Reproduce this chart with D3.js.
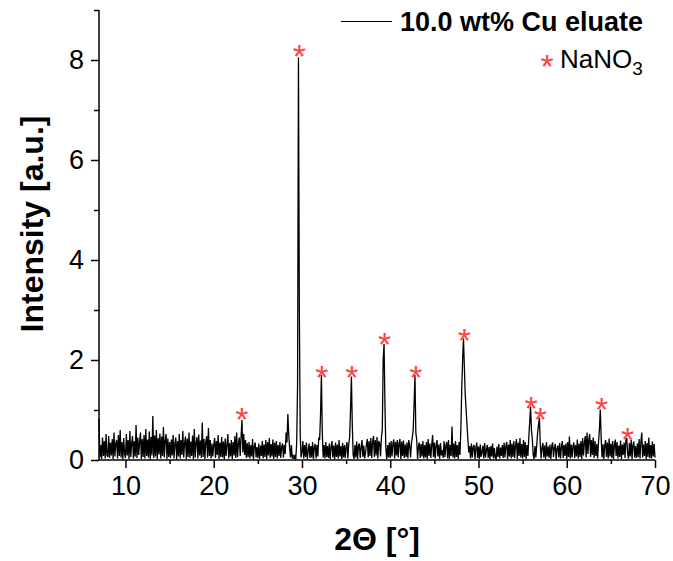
<!DOCTYPE html>
<html>
<head>
<meta charset="utf-8">
<script src="https://cdn.jsdelivr.net/npm/d3@7"></script>
<style>
  body { margin: 0; background: #fff; }
  svg { display: block; font-family: "Liberation Sans", Arial, sans-serif; }
</style>
</head>
<body>
<div id="chart"></div>
<script>
// XRD pattern, 10.0 wt% Cu eluate, NaNO3 reflections marked with red asterisks

// 2Θ grid: first angle and step of the intensity list below
const angleStart = 7.0;
const angleStep = 0.1;

// intensity, one row per degree (7.0 ... 70.0)
const intensity = [
  0.82, 0.05, 0.30, 0.02, 0.45, 0.08, 0.38, 0.03, 0.52, 0.10,
  0.06, 0.48, 0.04, 0.35, 0.09, 0.42, 0.02, 0.55, 0.07, 0.33,
  0.40, 0.03, 0.50, 0.08, 0.60, 0.05, 0.36, 0.01, 0.44, 0.12,
  0.04, 0.52, 0.09, 0.40, 0.02, 0.58, 0.06, 0.34, 0.48, 0.03,
  0.38, 0.07, 0.70, 0.04, 0.45, 0.10, 0.36, 0.55, 0.02, 0.42,
  0.06, 0.50, 0.03, 0.62, 0.08, 0.41, 0.05, 0.57, 0.01, 0.46,
  0.09, 0.88, 0.04, 0.49, 0.07, 0.60, 0.02, 0.44, 0.11, 0.53,
  0.03, 0.47, 0.08, 0.66, 0.05, 0.39, 0.52, 0.02, 0.43, 0.06,
  0.36, 0.04, 0.41, 0.09, 0.50, 0.03, 0.32, 0.45, 0.01, 0.38,
  0.07, 0.52, 0.03, 0.40, 0.10, 0.58, 0.05, 0.35, 0.47, 0.02,
  0.43, 0.06, 0.55, 0.04, 0.37, 0.08, 0.49, 0.02, 0.62, 0.05,
  0.34, 0.46, 0.03, 0.51, 0.09, 0.39, 0.04, 0.75, 0.06, 0.42,
  0.02, 0.36, 0.48, 0.05, 0.64, 0.08, 0.40, 0.03, 0.33, 0.07,
  0.30, 0.44, 0.04, 0.38, 0.10, 0.50, 0.02, 0.35, 0.06, 0.46,
  0.05, 0.37, 0.01, 0.43, 0.08, 0.31, 0.52, 0.03, 0.34, 0.07,
  0.40, 0.02, 0.36, 0.09, 0.48, 0.04, 0.55, 0.06, 0.33, 0.45,
  0.08, 0.48, 0.80, 0.15, 0.52, 0.10, 0.40, 0.04, 0.34, 0.06,
  0.36, 0.03, 0.30, 0.07, 0.42, 0.01, 0.28, 0.35, 0.05, 0.26,
  0.04, 0.33, 0.02, 0.29, 0.08, 0.38, 0.03, 0.31, 0.06, 0.40,
  0.02, 0.36, 0.09, 0.44, 0.04, 0.32, 0.07, 0.41, 0.02, 0.35,
  0.06, 0.38, 0.03, 0.30, 0.08, 0.36, 0.04, 0.27, 0.33, 0.05,
  0.30, 0.12, 0.55, 0.35, 0.92, 0.50, 0.25, 0.05, 0.30, 0.03,
  0.10, 0.02, 0.08, 0.01, 0.35, 1.50, 8.05, 3.00, 0.50, 0.05,
  0.15, 0.38, 0.03, 0.30, 0.06, 0.35, 0.02, 0.18, 0.33, 0.04,
  0.28, 0.05, 0.36, 0.02, 0.26, 0.32, 0.03, 0.30, 0.07, 0.45,
  0.40, 0.90, 1.70, 0.55, 0.05, 0.30, 0.03, 0.36, 0.06, 0.28,
  0.04, 0.33, 0.02, 0.27, 0.38, 0.05, 0.29, 0.01, 0.35, 0.06,
  0.31, 0.03, 0.40, 0.07, 0.28, 0.02, 0.34, 0.05, 0.30, 0.04,
  0.26, 0.36, 0.03, 0.32, 0.45, 1.00, 1.67, 0.70, 0.10, 0.02,
  0.30, 0.05, 0.37, 0.02, 0.28, 0.33, 0.04, 0.25, 0.40, 0.06,
  0.29, 0.03, 0.14, 0.31, 0.42, 0.05, 0.38, 0.08, 0.44, 0.04,
  0.36, 0.48, 0.06, 0.40, 0.09, 0.46, 0.03, 0.38, 0.33, 0.07,
  0.45, 0.60, 2.00, 2.32, 1.10, 0.25, 0.02, 0.30, 0.05, 0.35,
  0.04, 0.38, 0.07, 0.33, 0.41, 0.03, 0.36, 0.09, 0.40, 0.05,
  0.34, 0.42, 0.02, 0.37, 0.08, 0.39, 0.04, 0.31, 0.06, 0.35,
  0.03, 0.40, 0.30, 0.05, 0.33, 0.45, 0.60, 1.10, 1.70, 0.55,
  0.40, 0.02, 0.28, 0.35, 0.04, 0.32, 0.07, 0.38, 0.03, 0.30,
  0.05, 0.36, 0.02, 0.42, 0.08, 0.33, 0.04, 0.30, 0.50, 0.06,
  0.35, 0.03, 0.30, 0.40, 0.07, 0.31, 0.02, 0.34, 0.09, 0.20,
  0.04, 0.38, 0.06, 0.29, 0.36, 0.03, 0.40, 0.02, 0.30, 0.08,
  0.67, 0.05, 0.33, 0.03, 0.38, 0.06, 0.30, 0.02, 0.36, 0.10,
  0.60, 1.40, 2.00, 2.43, 1.85, 1.30, 1.00, 0.70, 0.40, 0.15,
  0.28, 0.03, 0.33, 0.05, 0.26, 0.30, 0.02, 0.24, 0.35, 0.04,
  0.27, 0.02, 0.31, 0.06, 0.16, 0.29, 0.03, 0.34, 0.05, 0.21,
  0.30, 0.04, 0.26, 0.01, 0.28, 0.07, 0.33, 0.03, 0.24, 0.05,
  0.02, 0.27, 0.06, 0.32, 0.03, 0.25, 0.08, 0.30, 0.04, 0.35,
  0.05, 0.28, 0.36, 0.02, 0.31, 0.07, 0.40, 0.03, 0.33, 0.06,
  0.38, 0.04, 0.30, 0.42, 0.02, 0.35, 0.08, 0.44, 0.05, 0.32,
  0.03, 0.40, 0.06, 0.36, 0.02, 0.30, 0.08, 0.45, 0.75, 1.07,
  0.60, 0.42, 0.10, 0.02, 0.28, 0.05, 0.30, 0.55, 0.70, 0.85,
  0.30, 0.03, 0.26, 0.34, 0.05, 0.29, 0.02, 0.36, 0.07, 0.27,
  0.04, 0.31, 0.02, 0.28, 0.35, 0.06, 0.25, 0.32, 0.01, 0.23,
  0.29, 0.05, 0.34, 0.03, 0.27, 0.38, 0.04, 0.30, 0.08, 0.33,
  0.02, 0.36, 0.06, 0.47, 0.03, 0.31, 0.05, 0.28, 0.35, 0.04,
  0.30, 0.07, 0.41, 0.03, 0.33, 0.06, 0.38, 0.02, 0.44, 0.09,
  0.35, 0.48, 0.05, 0.55, 0.12, 0.42, 0.52, 0.06, 0.40, 0.10,
  0.45, 0.04, 0.38, 0.08, 0.32, 0.03, 0.36, 0.60, 1.01, 0.45,
  0.05, 0.32, 0.02, 0.28, 0.40, 0.06, 0.35, 0.03, 0.43, 0.07,
  0.33, 0.04, 0.38, 0.02, 0.30, 0.41, 0.08, 0.36, 0.03, 0.29,
  0.06, 0.39, 0.02, 0.31, 0.10, 0.35, 0.04, 0.40, 0.44, 0.12,
  0.03, 0.34, 0.07, 0.41, 0.02, 0.30, 0.37, 0.05, 0.28, 0.04,
  0.33, 0.06, 0.42, 0.03, 0.36, 0.55, 0.05, 0.31, 0.08, 0.38,
  0.02, 0.34, 0.06, 0.45, 0.04, 0.30, 0.03, 0.37, 0.07, 0.32,
  0.05
];

// NaNO3 markers: angle and height of each asterisk centre
const starAngles = [23.2, 29.7, 32.25, 35.65, 39.35, 42.9, 48.4, 55.95, 57.0, 63.95, 66.9];
const starLevels = [0.94, 8.20, 1.78, 1.78, 2.44, 1.78, 2.52, 1.16, 0.94, 1.14, 0.54];

const xMajorTicks = [10, 20, 30, 40, 50, 60, 70];
const xMinorTicks = [15, 25, 35, 45, 55, 65];
const yMajorTicks = [0, 2, 4, 6, 8];
const yMinorTicks = [1, 3, 5, 7, 9];

const seriesName = '10.0 wt% Cu eluate';
const markerName = 'NaNO';

const width = 673, height = 561;
const starColor = '#ff4444';

const svg = d3.select('#chart').append('svg')
  .attr('width', width)
  .attr('height', height);

const x = d3.scaleLinear().domain([7, 70]).range([99, 655]);
const y = d3.scaleLinear().domain([0, 9]).range([460, 10]);

const points = intensity.map((v, i) => [angleStart + i * angleStep, v]);

// trace
svg.append('path')
  .datum(points)
  .attr('fill', 'none')
  .attr('stroke', '#000')
  .attr('stroke-width', 1.3)
  .attr('d', d3.line().x(d => x(d[0])).y(d => y(d[1])));

// axes
function styleAxis(g, fontSize) {
  g.selectAll('line').attr('stroke', '#000').attr('stroke-width', 1.5);
  g.select('.domain').attr('stroke', '#000').attr('stroke-width', 1.5);
  g.selectAll('text')
    .attr('fill', '#000')
    .style('font-size', fontSize + 'px')
    .style('font-family', '"Liberation Sans", Arial, sans-serif');
}

const xAxisG = svg.append('g')
  .attr('transform', `translate(0,${y(0)})`)
  .call(d3.axisBottom(x).tickValues(xMajorTicks).tickSize(8).tickSizeOuter(0).tickPadding(8))
  .call(g => styleAxis(g, 27));
xAxisG.select('.domain').attr('d', `M${x(7)},0H${x(70)}`);

svg.append('g')
  .attr('transform', `translate(0,${y(0)})`)
  .call(d3.axisBottom(x).tickValues(xMinorTicks).tickSize(4).tickFormat(''))
  .call(g => g.select('.domain').remove())
  .call(g => styleAxis(g, 27));

const yAxisG = svg.append('g')
  .attr('transform', `translate(${x(7)},0)`)
  .call(d3.axisLeft(y).tickValues(yMajorTicks).tickSize(8).tickSizeOuter(0).tickPadding(7))
  .call(g => styleAxis(g, 27));
yAxisG.select('.domain').attr('d', `M0,${y(9)}V${y(0)}`);

svg.append('g')
  .attr('transform', `translate(${x(7)},0)`)
  .call(d3.axisLeft(y).tickValues(yMinorTicks).tickSize(5).tickFormat(''))
  .call(g => g.select('.domain').remove())
  .call(g => styleAxis(g, 27));

// NaNO3 asterisks (text glyphs, baseline sits a bit over half an em under the glyph centre)
svg.append('g').selectAll('text')
  .data(starAngles)
  .join('text')
  .attr('x', d => x(d))
  .attr('y', (d, i) => y(starLevels[i]) + 18)
  .attr('text-anchor', 'middle')
  .attr('fill', starColor)
  .style('font-size', '34px')
  .text('*');

// axis titles
svg.append('text')
  .attr('x', (x(7) + x(70)) / 2)
  .attr('y', 550)
  .attr('text-anchor', 'middle')
  .style('font-size', '32px')
  .style('font-weight', 'bold')
  .text('2\u0398 [\u00b0]');

svg.append('text')
  .attr('transform', 'translate(43,224) rotate(-90)')
  .attr('text-anchor', 'middle')
  .style('font-size', '32px')
  .style('font-weight', 'bold')
  .text('Intensity [a.u.]');

// legend
const legend = svg.append('g');
legend.append('line')
  .attr('x1', 341).attr('x2', 392)
  .attr('y1', 21.5).attr('y2', 21.5)
  .attr('stroke', '#000')
  .attr('stroke-width', 1);
legend.append('text')
  .attr('x', 400)
  .attr('y', 31)
  .style('font-size', '27px')
  .style('font-weight', 'bold')
  .text(seriesName);
legend.append('text')
  .attr('x', 547)
  .attr('y', 78)
  .attr('text-anchor', 'middle')
  .attr('fill', starColor)
  .style('font-size', '34px')
  .text('*');
const nano = legend.append('text')
  .attr('x', 560)
  .attr('y', 68)
  .style('font-size', '26px')
  .text(markerName);
nano.append('tspan')
  .attr('dy', 7)
  .style('font-size', '19px')
  .text('3');
</script>
</body>
</html>
